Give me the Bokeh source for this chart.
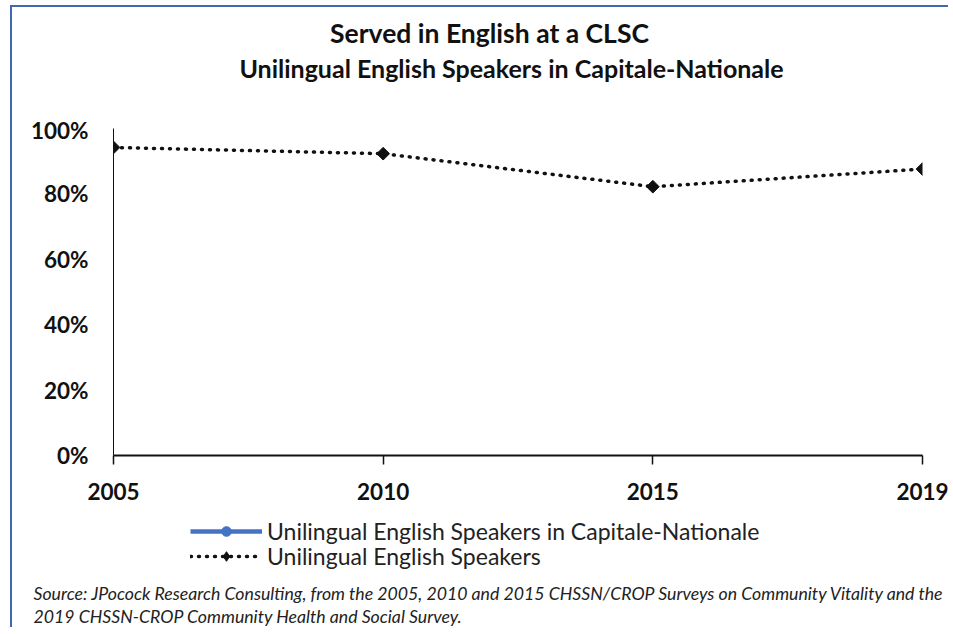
import numpy as np
from bokeh.plotting import figure
from bokeh.layouts import column
from bokeh.models import Label, Legend, LegendItem, FixedTicker, NumeralTickFormatter, Plot
from bokeh.embed import file_html
from bokeh.resources import INLINE

# ---- data ----
years = ["2005", "2010", "2015", "2019"]
unilingual_english = [0.942, 0.923, 0.822, 0.876]
capitale_nationale = [np.nan, np.nan, np.nan, np.nan]  # no points shown in the chart
y_ticks = [0.0, 0.2, 0.4, 0.6, 0.8, 1.0]

title_line1 = "Served in English at a CLSC"
title_line2 = "Unilingual English Speakers in Capitale-Nationale"
label_capitale = "Unilingual English Speakers in Capitale-Nationale"
label_english = "Unilingual English Speakers"
source_line1 = ("Source: JPocock Research Consulting, from the 2005, 2010 and 2015 "
                "CHSSN/CROP Surveys on Community Vitality and the")
source_line2 = "2019 CHSSN-CROP Community Health and Social Survey."

FONT = "Lato"
INK = "#111111"
BLUE = "#4472C4"
EDGE = "2px solid #4068B5"
DOT = dict(line_color=INK, line_width=3.5, line_dash="1 7", line_cap="round")
W = 938
x_idx = list(range(len(years)))
HAS_FRAME_ALIGN = "frame_align" in Plot.properties()


def text_panel(height):
    f = figure(width=W, height=height, x_range=(0, 1), y_range=(0, 1),
               x_axis_location=None, y_axis_location=None, title=None,
               output_backend="svg", toolbar_location=None, min_border=0)
    if HAS_FRAME_ALIGN:
        f.frame_align = False
    f.outline_line_color = None
    f.grid.visible = False
    return f


# ---- title panel ----
top = text_panel(111)
top.styles = {"border-left": EDGE, "border-top": EDGE}
for txt, xs, ys, fs in [(title_line1, 477, 86, "26.5px"), (title_line2, 499, 51, "25px")]:
    top.add_layout(Label(x=xs, y=ys, x_units="screen", y_units="screen", text=txt,
                         text_align="center", text_baseline="middle",
                         text_font=FONT, text_font_style="bold", text_font_size=fs,
                         text_color=INK))

# ---- main chart ----
p = figure(width=W, frame_width=807, frame_height=327,
           x_range=(0, len(years) - 1), y_range=(0, 1),
           output_backend="svg", toolbar_location=None, title=None,
           min_border_left=101, min_border_right=30, min_border_top=12, min_border_bottom=55)
if HAS_FRAME_ALIGN:
    p.frame_align = False
p.styles = {"border-left": EDGE}
p.outline_line_color = None
p.grid.visible = False

p.line(x_idx, capitale_nationale, line_color=BLUE, line_width=4.5)
p.scatter(x_idx, capitale_nationale, marker="circle", size=11, color=BLUE)
p.line(x_idx, unilingual_english, **DOT)
p.scatter(x_idx, unilingual_english, marker="square", angle=np.pi / 4, size=9, color=INK)

xa = p.xaxis[0]
xa.ticker = FixedTicker(ticks=x_idx)
xa.major_label_overrides = {i: y for i, y in zip(x_idx, years)}
xa.axis_line_width = 2
xa.axis_line_color = INK
xa.major_tick_line_color = INK
xa.major_tick_line_width = 1.5
xa.major_tick_out = 9
xa.major_tick_in = 0
xa.minor_tick_line_color = None
xa.major_label_standoff = 18
xa.major_label_text_font = FONT
xa.major_label_text_font_style = "bold"
xa.major_label_text_font_size = "22.5px"
xa.major_label_text_color = INK

ya = p.yaxis[0]
ya.ticker = FixedTicker(ticks=y_ticks)
ya.formatter = NumeralTickFormatter(format="0%")
ya.axis_line_width = 1
ya.axis_line_color = INK
ya.major_tick_out = 0
ya.major_tick_in = 0
ya.minor_tick_line_color = None
ya.major_label_standoff = 25
ya.major_label_text_font = FONT
ya.major_label_text_font_style = "bold"
ya.major_label_text_font_size = "22.5px"
ya.major_label_text_color = INK

# ---- legend + source panel ----
bot = text_panel(117)
bot.styles = {"border-left": EDGE}
key_nan = [np.nan]  # legend keys only: nothing is plotted in this panel
k_blue_line = bot.line(x=key_nan, y=key_nan, line_color=BLUE, line_width=4.5)
k_blue_pt = bot.scatter(x=key_nan, y=key_nan, marker="circle", size=11, color=BLUE)
k_dot_line = bot.line(x=key_nan, y=key_nan, **DOT)
k_dot_pt = bot.scatter(x=key_nan, y=key_nan, marker="diamond", size=13, color=INK)

legend_style = dict(orientation="vertical", border_line_color=None, background_fill_alpha=0,
                    label_text_font=FONT, label_text_font_size="23px",
                    label_text_color="#222222", glyph_width=72, glyph_height=24,
                    label_height=24, spacing=0, padding=0, margin=0, label_standoff=5)
for item, ys in [(LegendItem(label=label_capitale, renderers=[k_blue_line, k_blue_pt]), 82),
                 (LegendItem(label=label_english, renderers=[k_dot_line, k_dot_pt]), 57)]:
    bot.add_layout(Legend(items=[item], location=(178, ys), **legend_style), "center")

for txt, ys in [(source_line1, 34), (source_line2, 11.5)]:
    bot.add_layout(Label(x=21, y=ys, x_units="screen", y_units="screen", text=txt,
                         text_align="left", text_baseline="middle",
                         text_font=FONT, text_font_style="italic", text_font_size="17.7px",
                         text_color="#222222"))

layout = column(top, p, bot, spacing=0, styles={"margin-left": "10px", "margin-top": "5px"})

open("out.html", "w").write(file_html(layout, INLINE))
